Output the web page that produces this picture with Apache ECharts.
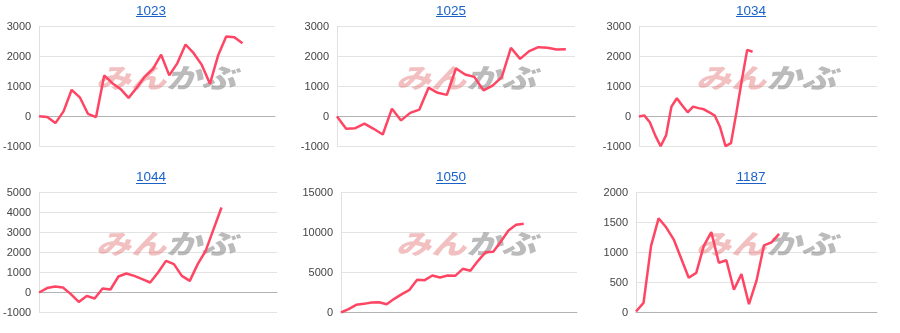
<!DOCTYPE html>
<html>
<head>
<meta charset="utf-8">
<script src="https://cdn.jsdelivr.net/npm/echarts@6/dist/echarts.min.js"></script>
<style>
html,body{margin:0;padding:0;background:#fff;}
#chart{width:900px;height:333px;}
</style>
</head>
<body>
<div id="chart"></div>
<script>
// ---- data ----
const titles = ['1023', '1025', '1034', '1044', '1050', '1187'];
const xSlots = [30, 27, 45, 31, 32, 33];
const s1023 = [10, -20, -220, 170, 890, 640, 90, -20, 1370, 1110, 920, 620, 960, 1330, 1590, 2060, 1370, 1780, 2400, 2110, 1720, 1090, 2030, 2670, 2640, 2440];
const s1025 = [0, -410, -390, -240, -410, -600, 260, -130, 120, 230, 960, 790, 720, 1600, 1400, 1320, 870, 1030, 1310, 2290, 1920, 2180, 2310, 2290, 2230, 2240];
const s1034 = [0, 30, -190, -630, -990, -630, 330, 610, 370, 140, 330, 280, 240, 140, 30, -360, -990, -890, 120, 1200, 2220, 2160];
const s1044 = [0, 220, 300, 250, -80, -470, -170, -300, 200, 150, 800, 950, 830, 670, 500, 1000, 1580, 1420, 830, 580, 1420, 2080, 3170, 4250];
const s1050 = [0, 420, 960, 1080, 1250, 1290, 1040, 1710, 2290, 2830, 4080, 4040, 4630, 4380, 4630, 4580, 5460, 5210, 6460, 7540, 7580, 8880, 10250, 10960, 11080];
const s1187 = [17, 160, 1110, 1570, 1420, 1220, 900, 580, 660, 1110, 1340, 830, 870, 380, 640, 140, 530, 1120, 1170, 1310];
const seriesData = [s1023, s1025, s1034, s1044, s1050, s1187];
const yMin = [-1000, -1000, -1000, -1000, 0, 0];
const yMax = [3000, 3000, 3000, 5000, 15000, 2000];
const yStep = [1000, 1000, 1000, 1000, 5000, 500];

// ---- layout ----
const panelW = 300, panelH = 166;
const plotLeft = [37, 37, 39, 39, 41, 36];
const plotRight = [275, 275, 277, 277, 277, 277];
const plotTop = 26.5, plotH = 120;

const grids = [], xAxes = [], yAxes = [], series = [], title = [], graphic = [];
for (let i = 0; i < 6; i++) {
  const col = i % 3, row = Math.floor(i / 3);
  const ox = col * panelW, oy = row * panelH;
  grids.push({left: ox + plotLeft[i], top: oy + plotTop, width: plotRight[i] - plotLeft[i], height: plotH, containLabel: false});
  const cats = [];
  for (let k = 0; k < xSlots[i]; k++) cats.push(String(k + 1));
  xAxes.push({
    type: 'category', gridIndex: i, data: cats, boundaryGap: false,
    axisLine: {show: true, onZero: true, lineStyle: {color: '#b3b3b3', width: 1}},
    axisTick: {show: false}, axisLabel: {show: false}, splitLine: {show: false}
  });
  yAxes.push({
    type: 'value', gridIndex: i, min: yMin[i], max: yMax[i], interval: yStep[i],
    axisLine: {show: true, lineStyle: {color: '#e0e0e0'}},
    axisTick: {show: false},
    axisLabel: {color: '#444', fontSize: 11, fontFamily: 'Liberation Sans, Arial, sans-serif', margin: 8,
      formatter: function (v) { return String(v); }},
    splitLine: {show: true, lineStyle: {color: '#e3e3e3', width: 1}}
  });
  series.push({
    type: 'line', xAxisIndex: i, yAxisIndex: i, data: seriesData[i],
    symbol: 'none', smooth: false, z: 5,
    lineStyle: {color: '#ff4564', width: 2.5}
  });
  const cx = ox + 151;
  const ty = row === 0 ? 4 : 170.5;
  const uy = row === 0 ? 16.5 : 183.5;
  title.push({
    text: titles[i], left: cx, top: ty, textAlign: 'center', padding: 0,
    textStyle: {color: '#1a62c8', fontSize: 13.5, fontWeight: 'normal', fontFamily: 'Liberation Sans, Arial, sans-serif'}
  });
  graphic.push({
    type: 'line', z: 10,
    shape: {x1: cx - 15, y1: uy, x2: cx + 15, y2: uy},
    style: {stroke: '#1a62c8', lineWidth: 1}
  });
  graphic.push({
    type: 'text', z: 1, silent: true,
    x: ox + 166, y: oy + 78, scaleX: 1.3,
    style: {
      text: '{a|みん}{b|かぶ}',
      align: 'center', verticalAlign: 'middle',
      rich: {
        a: {fontSize: 27, fontWeight: 900, fontStyle: 'italic', fill: 'rgba(220,90,90,0.38)', fontFamily: 'Noto Sans CJK JP'},
        b: {fontSize: 27, fontWeight: 900, fontStyle: 'italic', fill: 'rgba(120,120,120,0.5)', fontFamily: 'Noto Sans CJK JP'}
      }
    }
  });
}

const chart = echarts.init(document.getElementById('chart'), null, {renderer: 'canvas'});
chart.setOption({
  animation: false,
  backgroundColor: '#ffffff',
  title: title,
  grid: grids,
  xAxis: xAxes,
  yAxis: yAxes,
  series: series,
  graphic: graphic
});
</script>
</body>
</html>
